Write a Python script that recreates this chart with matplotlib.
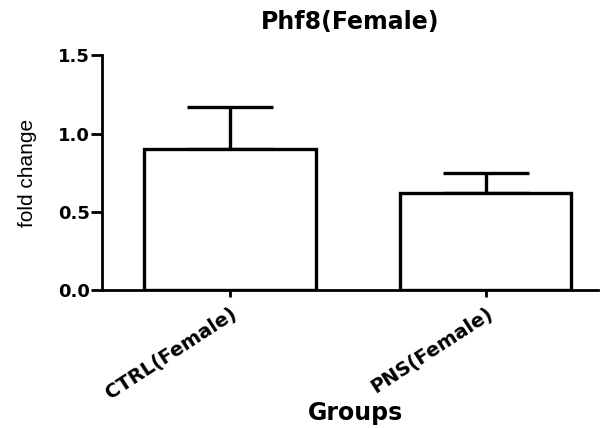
import matplotlib.pyplot as plt

# data
groups = ['CTRL(Female)', 'PNS(Female)']
fold_change = [0.90, 0.62]
sem = [0.27, 0.13]
y_ticks = [0.0, 0.5, 1.0, 1.5]

plt.rcParams['font.family'] = ['DejaVu Sans']

fig = plt.figure(figsize=(6.08, 4.28), dpi=100)
ax = fig.add_axes([0.168, 0.322, 0.816, 0.549])

x = range(len(groups))
ax.bar(x, fold_change, width=0.67, color='white', edgecolor='black', linewidth=2.4, zorder=2)
ax.errorbar(x, fold_change, yerr=[[0, 0], sem], fmt='none', ecolor='black',
            elinewidth=2.4, capsize=31, capthick=2.4, zorder=1)

ax.set_xlim(-0.5, 1.44)
ax.set_ylim(0, 1.5)
ax.set_yticks(y_ticks)
ax.set_yticklabels([f'{v:.1f}' for v in y_ticks], fontsize=13, fontweight='bold')
ax.set_xticks(list(x))
ax.set_xticklabels(groups, rotation=33, ha='right', va='top', rotation_mode='anchor',
                   fontsize=14, fontweight='bold')

for side in ['top', 'right']:
    ax.spines[side].set_visible(False)
for side in ['left', 'bottom']:
    ax.spines[side].set_linewidth(2)
ax.tick_params(axis='y', direction='out', length=8, width=2, pad=1)
ax.tick_params(axis='x', direction='out', length=5, width=2, pad=5)

ax.set_title('Phf8(Female)', fontsize=17, fontweight='bold', pad=19)
ax.set_xlabel('Groups', fontsize=17, fontweight='bold')
ax.xaxis.set_label_coords(0.51, -0.47)
ax.set_ylabel('fold change', fontsize=15, family='Liberation Sans', labelpad=15)

fig.savefig('out.png', dpi=100)
